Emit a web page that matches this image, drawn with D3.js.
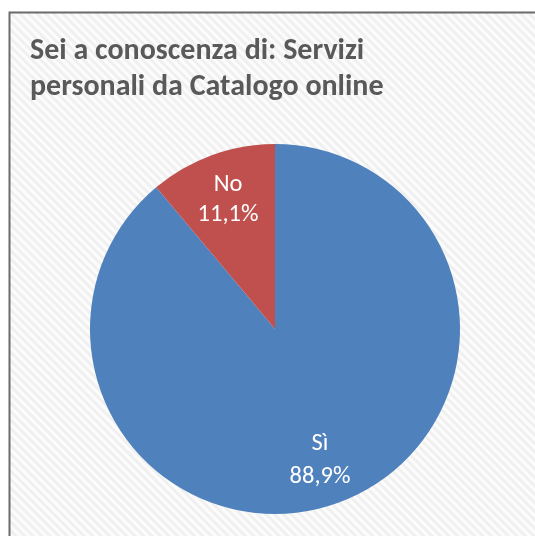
<!DOCTYPE html>
<html><head><meta charset="utf-8">
<script src="https://cdn.jsdelivr.net/npm/d3@7"></script>
<style>html,body{margin:0;padding:0;background:#fff;overflow:hidden;width:100%;height:100%;}svg{display:block;position:fixed;left:0;top:0;}</style>
</head><body>
<svg id="chart" width="535" height="536"></svg>
<script>
const titleLines = ["Sei a conoscenza di: Servizi", "personali da Catalogo online"];
const categories = ["Sì", "No"];
const values = [88.9, 11.1];
const labels = ["88,9%", "11,1%"];
const colors = ["#4f81bd", "#c0504d"];

const svg = d3.select("#chart");
const defs = svg.append("defs");
const pat = defs.append("pattern").attr("id", "stripes").attr("patternUnits", "userSpaceOnUse")
  .attr("width", 6).attr("height", 6).attr("patternTransform", "rotate(-45)");
pat.append("rect").attr("width", 6).attr("height", 6).attr("fill", "#f0f0f0");
pat.append("rect").attr("width", 3).attr("height", 6).attr("fill", "#fcfcfc");

svg.append("rect").attr("x", 9.5).attr("y", 12.5).attr("width", 640).attr("height", 640)
  .attr("fill", "url(#stripes)").attr("stroke", "#6b6b6b").attr("stroke-width", 2);

const font = "Carlito, Calibri, Lato, 'Open Sans', sans-serif";
svg.append("g").selectAll("text").data(titleLines).join("text")
  .attr("x", 30).attr("y", (d, i) => 59 + i * 36)
  .attr("font-family", font).attr("font-weight", "bold").attr("font-size", 30)
  .attr("fill", "#595959").text(d => d);

const cx = 275, cy = 329, r = 185;
const pie = d3.pie().sort(null).startAngle(0).endAngle(2 * Math.PI);
const arcs = pie(values);
const arc = d3.arc().innerRadius(0).outerRadius(r);
const g = svg.append("g").attr("transform", `translate(${cx},${cy})`);
g.selectAll("path").data(arcs).join("path")
  .attr("d", arc).attr("fill", (d, i) => colors[i]);

const labelPos = [[45, 121, 33], [-47, -138, 30]];
const lg = g.selectAll("g.lbl").data(arcs).join("g").attr("class", "lbl")
  .attr("transform", (d, i) => `translate(${labelPos[i][0]},${labelPos[i][1]})`);
lg.append("text").attr("text-anchor", "middle").attr("y", 0)
  .attr("font-family", font).attr("font-size", 24.5).attr("fill", "#fff")
  .text((d, i) => categories[i]);
lg.append("text").attr("text-anchor", "middle").attr("y", (d, i) => labelPos[i][2])
  .attr("font-family", font).attr("font-size", 24.5).attr("fill", "#fff")
  .text((d, i) => labels[i]);
</script>
</body></html>
